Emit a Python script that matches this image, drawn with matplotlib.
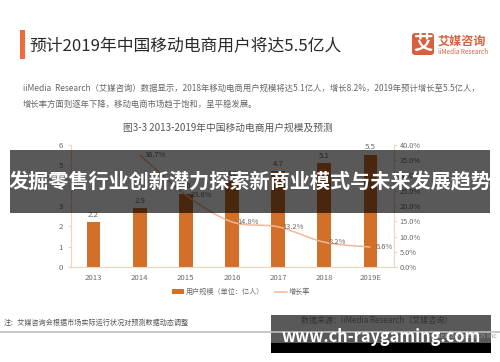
import matplotlib
matplotlib.use("Agg")
import matplotlib.pyplot as plt
from matplotlib.patches import Rectangle, FancyBboxPatch, PathPatch
from matplotlib.path import Path
from matplotlib.lines import Line2D
import numpy as np

plt.rcParams['font.family'] = ['Noto Sans CJK SC', 'DejaVu Sans']

years = ['2013', '2014', '2015', '2016', '2017', '2018', '2019E']
users = [2.2, 2.9, 3.6, 4.2, 4.7, 5.1, 5.5]
rate_years = [1, 2, 3, 4, 5, 6]
rate = [36.7, 23.6, 14.8, 13.2, 8.2, 6.6]
left_ticks = [0, 1, 2, 3, 4, 5, 6]
right_ticks = [0, 5, 10, 15, 20, 25, 30, 35, 40]

W, H = 500, 362
ORANGE = '#d2702a'
LINE = '#f0b898'
AXIS = '#f3d3ba'
GREY = '#6a6a6a'

fig = plt.figure(figsize=(W / 100, H / 100), dpi=100, facecolor='white')

# chart area, placed in pixels
ax = fig.add_axes([70.5 / W, 1 - 267.3 / H, 323 / W, 122.6 / H])
ax.bar(range(7), users, width=0.3, color=ORANGE)
ax.set_xlim(-0.5, 6.5)
ax.set_ylim(0, 6)
ax.set_xticks(range(7))
ax.set_xticklabels(years, fontsize=5.6, color=GREY)
ax.set_yticks(left_ticks)
ax.tick_params(axis='y', labelsize=5.6, labelcolor=GREY, color=AXIS, length=2.5, width=0.8, pad=3)
ax.tick_params(axis='x', length=0, pad=5)
for s in ['top', 'right']:
    ax.spines[s].set_visible(False)
ax.spines['left'].set_color(AXIS)
ax.spines['bottom'].set_color(AXIS)
ax.patch.set_alpha(0)
for i, v in enumerate(users):
    ax.text(i, v + 0.17, str(v), ha='center', va='bottom', fontsize=5.6, color=GREY)

ax2 = ax.twinx()
ax2.set_ylim(0, 40)
ax2.set_yticks(right_ticks)
ax2.set_yticklabels(['%.1f%%' % t for t in right_ticks])
ax2.tick_params(axis='y', labelsize=5.3, labelcolor=GREY, color=AXIS, length=2.5, width=0.8, pad=2)
for s in ['top', 'left', 'bottom']:
    ax2.spines[s].set_visible(False)
ax2.spines['right'].set_color(AXIS)

# smoothed growth line, bezier through the data points
pts = np.column_stack([rate_years, rate])
verts = [pts[0]]
codes = [Path.MOVETO]
for i in range(len(pts) - 1):
    p0 = pts[max(i - 1, 0)]
    p1 = pts[i]
    p2 = pts[i + 1]
    p3 = pts[min(i + 2, len(pts) - 1)]
    verts += [p1 + (p2 - p0) / 6, p2 - (p3 - p1) / 6, p2]
    codes += [Path.CURVE4] * 3
ax2.add_patch(PathPatch(Path(verts, codes), fc='none', ec=LINE, lw=1.1))
offs = [0.33, 0.33, 0.35, 0.33, 0.28, 0.29]
for x, v, o in zip(rate_years, rate, offs):
    ax2.text(x + o, v, '%.1f%%' % v, ha='center', va='center', fontsize=5.4, color=GREY)

# everything else sits on a pixel overlay
ov = fig.add_axes([0, 0, 1, 1], zorder=10)
ov.set_xlim(0, W)
ov.set_ylim(H, 0)
ov.axis('off')

ov.add_patch(Rectangle((20, 30), 4.5, 29, fc='#ee6c3a', ec='none'))
ov.text(29, 46, '预计2019年中国移动电商用户将达5.5亿人', fontsize=12.1, color='#2a2a2a', va='center')

ov.add_patch(FancyBboxPatch((412, 33), 22, 22, boxstyle='round,pad=0,rounding_size=3', fc='#d9603f', ec='none'))
ov.text(423, 44, '艾', fontsize=14, color='white', weight='bold', ha='center', va='center')
ov.text(438, 41.5, '艾媒咨询', fontsize=8.7, color='#d9603f', weight='bold', va='center')
ov.text(438, 51.5, 'iiMedia Research', fontsize=4.6, color='#d9603f', va='center')

ov.text(23, 88.5, 'iiMedia  Research（艾媒咨询）数据显示，2018年移动电商用户规模将达5.1亿人，增长8.2%，2019年预计增长至5.5亿人，',
        fontsize=6, color='#666666', va='center')
ov.text(23, 104, '增长率方面则逐年下降，移动电商市场趋于饱和，呈平稳发展。', fontsize=6, color='#666666', va='center')
ov.text(228, 128, '图3-3 2013-2019年中国移动电商用户规模及预测', fontsize=7, color='#555555', ha='center', va='center')

ov.legend(handles=[Rectangle((0, 0), 1, 1, fc=ORANGE, ec='none', label='用户规模（单位：亿人）'),
                   Line2D([], [], color=LINE, lw=1.1, label='增长率')],
          loc='center', bbox_to_anchor=(241, 292), bbox_transform=ov.transData, ncol=2, frameon=False,
          fontsize=5.1, labelcolor=GREY, handlelength=1.7, handleheight=0.5, handletextpad=0.2, columnspacing=1.6)

ov.text(4, 322.5, '注：艾媒咨询会根据市场实际运行状况对预测数据动态调整', fontsize=5.1, color='#555555', va='center')
ov.text(376.5, 320, '数据来源：iiMedia Research（艾媒咨询）', fontsize=5.8, color='#333333', ha='center', va='center')
ov.plot([0, W], [332, 332], color='#bdbdbd', lw=1.2)
ov.text(497, 336.5, 'iiMedia Research Inc', fontsize=5, color='#999999', ha='right', va='center')

# watermark bands
ov.add_patch(Rectangle((10, 150), 480, 63, fc='black', ec='none', alpha=0.65))
ov.text(250, 182, '发掘零售行业创新潜力探索新商业模式与未来发展趋势', fontsize=14.5, color='white', weight='bold',
        ha='center', va='center')
ov.add_patch(Rectangle((271, 315), 220, 28, fc='black', ec='none', alpha=0.65))
ov.add_patch(Rectangle((271, 343), 220, 10, fc='black', ec='none'))
ov.text(381, 337, 'www.ch-raygaming.com', fontsize=11.8, color='white', weight='bold', ha='center', va='center')

fig.savefig('out.png', dpi=100)
